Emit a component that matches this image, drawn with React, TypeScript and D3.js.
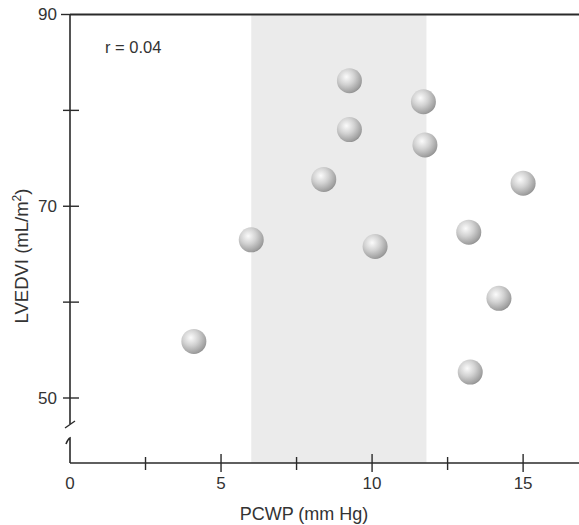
import React from "react";
import * as d3 from "d3";

// PCWP (mm Hg) vs LVEDVI (mL/m2)
const pcwp = [4.1, 6.0, 9.25, 11.7, 9.25, 11.75, 8.4, 15.0, 13.2, 10.1, 14.2, 13.25];
const lvedvi = [55.9, 66.5, 83.1, 80.9, 78.0, 76.4, 72.8, 72.4, 67.3, 65.8, 60.4, 52.7];

const xMajor = [0, 5, 10, 15];
const xMinor = [2.5, 7.5, 12.5];
const yMajor = [50, 70, 90];
const yMinor = [60, 80];
const band = [6, 11.8];

const W = 579;
const H = 525;
const font = "Liberation Sans, Arial, sans-serif";

export default function App() {
  const x = d3.scaleLinear().domain([0, 16.85]).range([70, 579]);
  const y = d3.scaleLinear().domain([50, 90]).range([398, 14.5]);
  const axisY = 463; // x-axis sits below the break
  const x0 = x(0);
  const ink = "#2a2a2a";

  return (
    <svg
      width={W}
      height={H}
      style={{ position: "absolute", left: 0, top: 0, background: "#fff" }}
    >
      <defs>
        <radialGradient id="ball" cx="0.38" cy="0.35" r="0.7">
          <stop offset="0" stopColor="#fbfbfb" />
          <stop offset="0.45" stopColor="#d2d2d2" />
          <stop offset="0.9" stopColor="#9e9e9e" />
          <stop offset="1" stopColor="#8a8a8a" />
        </radialGradient>
      </defs>

      {/* shaded normal range */}
      <rect
        x={x(band[0])}
        y={y(90)}
        width={x(band[1]) - x(band[0])}
        height={axisY - y(90)}
        fill="#ebebeb"
      />

      {/* top frame line */}
      <line x1={x0} x2={W} y1={y(90)} y2={y(90)} stroke={ink} strokeWidth={2} />

      {/* y axis with break */}
      <line x1={x0} x2={x0} y1={y(90)} y2={424} stroke={ink} strokeWidth={1.6} />
      <line x1={65} x2={75} y1={428} y2={421} stroke={ink} strokeWidth={1.4} />
      <path d={`M66,444 Q68,439 ${x0},438 L${x0},${axisY}`} fill="none" stroke={ink} strokeWidth={1.6} />

      {yMajor.concat(yMinor).map((v) => (
        <line key={"yt" + v} x1={v === 90 ? 61 : 63} x2={v === 90 ? x0 : 79} y1={y(v)} y2={y(v)} stroke={ink} strokeWidth={1.4} />
      ))}
      {yMajor.map((v) => (
        <text key={"yl" + v} x={57} y={y(v)} dy="0.35em" textAnchor="end" fontFamily={font} fontSize={17} fill="#333">
          {v}
        </text>
      ))}

      {/* x axis */}
      <line x1={x0} x2={W} y1={axisY} y2={axisY} stroke={ink} strokeWidth={1.6} />
      {xMajor.filter((v) => v > 0).map((v) => (
        <line key={"xt" + v} x1={x(v)} x2={x(v)} y1={454} y2={472} stroke={ink} strokeWidth={1.4} />
      ))}
      {xMinor.map((v) => (
        <line key={"xm" + v} x1={x(v)} x2={x(v)} y1={457} y2={470} stroke={ink} strokeWidth={1.4} />
      ))}
      {xMajor.map((v) => (
        <text key={"xl" + v} x={x(v)} y={489} textAnchor="middle" fontFamily={font} fontSize={17} fill="#333">
          {v}
        </text>
      ))}

      <text x={304} y={520} textAnchor="middle" fontFamily={font} fontSize={18} fill="#333">
        PCWP (mm Hg)
      </text>
      <text
        transform="translate(28,256) rotate(-90)"
        textAnchor="middle"
        fontFamily={font}
        fontSize={18.5}
        fill="#333"
      >
        LVEDVI (mL/m<tspan dy="-7" fontSize={12}>2</tspan><tspan dy="7">)</tspan>
      </text>

      <text x={105} y={53} fontFamily={font} fontSize={16.5} fill="#333">
        r = 0.04
      </text>

      {pcwp.map((v, i) => (
        <circle key={"p" + i} cx={x(v)} cy={y(lvedvi[i])} r={12.5} fill="url(#ball)" />
      ))}
    </svg>
  );
}
